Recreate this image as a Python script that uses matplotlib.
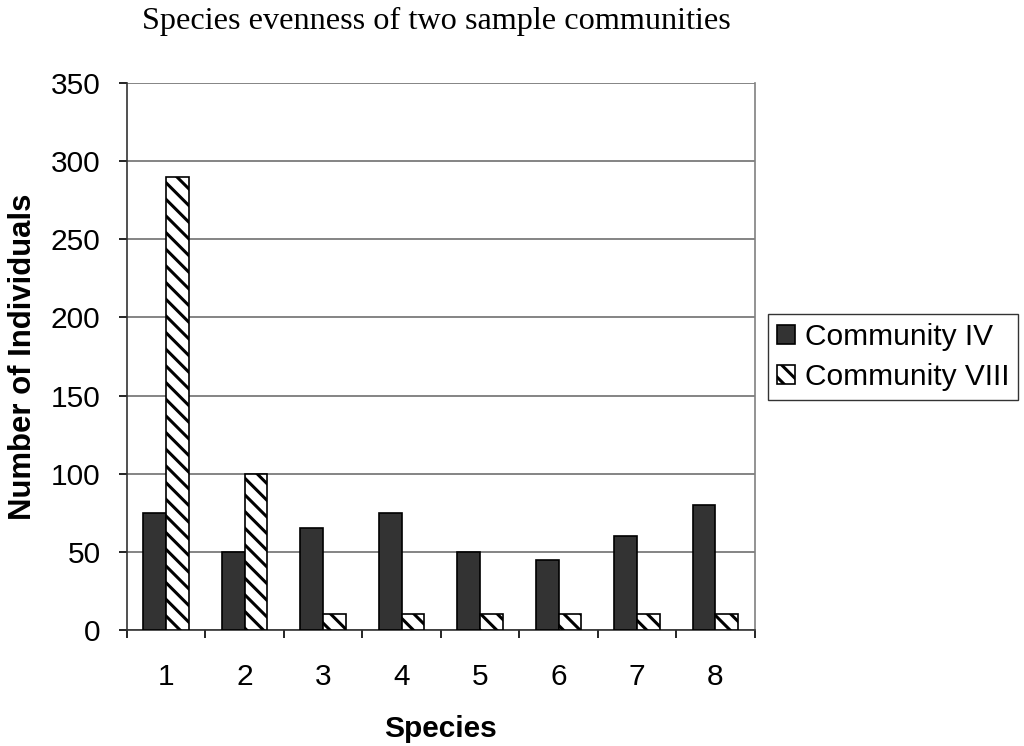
import numpy as np
import matplotlib
matplotlib.use("Agg")
import matplotlib.pyplot as plt

species = [1, 2, 3, 4, 5, 6, 7, 8]
community_iv = [75, 50, 65, 75, 50, 45, 60, 80]
community_viii = [290, 100, 10, 10, 10, 10, 10, 10]
yticks = [0, 50, 100, 150, 200, 250, 300, 350]

plt.rcParams["font.family"] = ["Liberation Sans", "DejaVu Sans"]
plt.rcParams["hatch.linewidth"] = 2.2

fig = plt.figure(figsize=(10.24, 7.46), dpi=100)
ax = fig.add_axes([0.124, 0.1555, 0.613, 0.7332])

x = np.array(species)
w = 0.29
ax.bar(x - w / 2, community_iv, width=w, color="#333333", edgecolor="black",
       linewidth=1.2, label="Community IV", zorder=3)
ax.bar(x + w / 2, community_viii, width=w, color="white", edgecolor="black",
       hatch="\\\\", linewidth=1.2, label="Community VIII", zorder=3)

ax.set_xlim(0.5, 8.5)
ax.set_ylim(0, 350)
ax.set_yticks(yticks)
ax.set_xticks(species)
ax.set_xticks(np.arange(0.5, 9, 1), minor=True)
ax.tick_params(axis="x", which="major", length=0, pad=24, labelsize=21.5)
ax.tick_params(axis="x", which="minor", length=6, width=1.2, direction="out")
ax.tick_params(axis="y", length=6, width=1.2, direction="out", pad=13, labelsize=21.5)

ax.yaxis.grid(True, color="#707070", linewidth=1.2, zorder=0)
ax.spines["top"].set_visible(False)
ax.spines["right"].set_color("#808080")
ax.spines["right"].set_linewidth(1.2)
for s in ["left", "bottom"]:
    ax.spines[s].set_linewidth(1.2)
    ax.spines[s].set_color("#333333")

ax.set_xlabel("Species", fontsize=21.5, fontweight="bold", labelpad=17)
ax.set_ylabel("Number of Individuals", fontsize=22.4, fontweight="bold", labelpad=9)

fig.text(142 / 1024, 1 - 29.5 / 746, "Species evenness of two sample communities",
         family="Liberation Serif", fontsize=23.2, ha="left", va="baseline")

leg = ax.legend(loc="upper left", bbox_to_anchor=(768 / 1024, 1 - 314 / 746),
                bbox_transform=fig.transFigure, fontsize=21.5,
                frameon=True, fancybox=False, edgecolor="black",
                handlelength=0.6, handleheight=0.6, handletextpad=0.33,
                borderpad=0.3, labelspacing=0.4, borderaxespad=0)
leg.get_frame().set_linewidth(1.0)

fig.savefig("out.png", dpi=100, facecolor="white")
